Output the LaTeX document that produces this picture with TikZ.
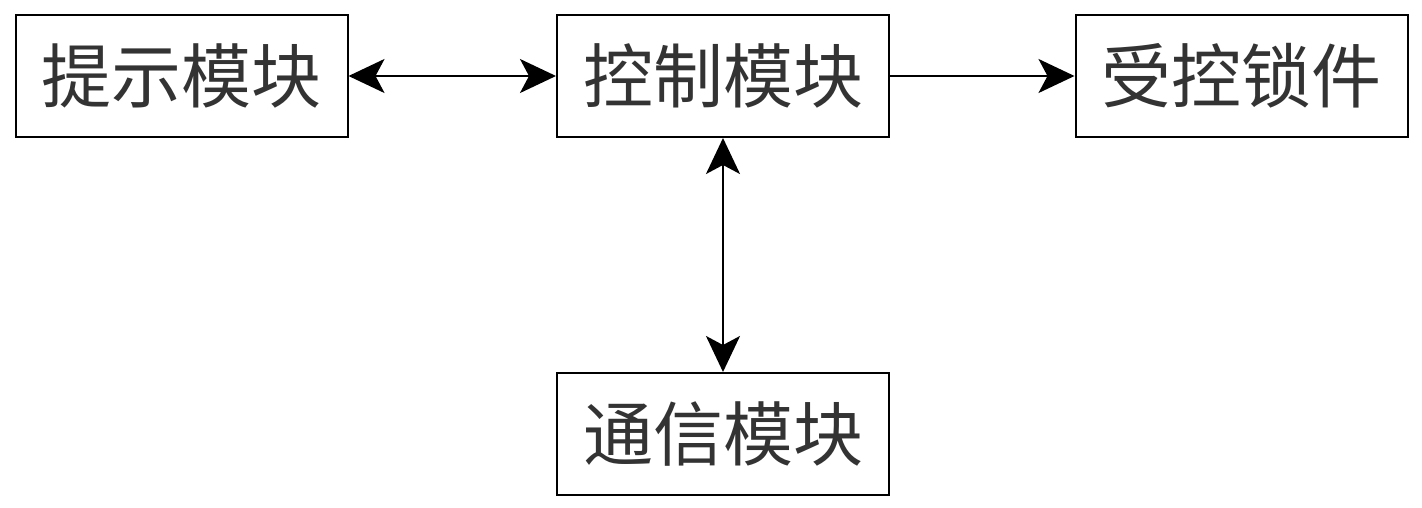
\documentclass[tikz,border=0pt]{standalone}
\usepackage{fontspec}
\newfontfamily\cjk{Noto Sans CJK SC}
\usetikzlibrary{arrows.meta}
\begin{document}
\begin{tikzpicture}[x=1pt,y=-1pt,
  box/.style={draw, line width=2pt, minimum width=332pt, minimum height=122pt, inner sep=0pt, font=\cjk\fontsize{70}{70}\selectfont, text=black!80},
  tip/.tip={Stealth[length=36pt,width=34pt,inset=9pt]},
  conn/.style={line width=2pt, -tip},
  biconn/.style={line width=2pt, tip-tip}]
\useasboundingbox (0,0) rectangle (1422,508);
\node[box] (tip) at (181.5,76) {提示模块};
\node[box] (ctl) at (723,76) {控制模块};
\node[box] (lock) at (1241.5,76) {受控锁件};
\node[box] (com) at (723,434) {通信模块};
\draw[biconn] (tip.east) -- (ctl.west);
\draw[conn] (ctl.east) -- (lock.west);
\draw[biconn] (ctl.south) -- (com.north);
\end{tikzpicture}
\end{document}
